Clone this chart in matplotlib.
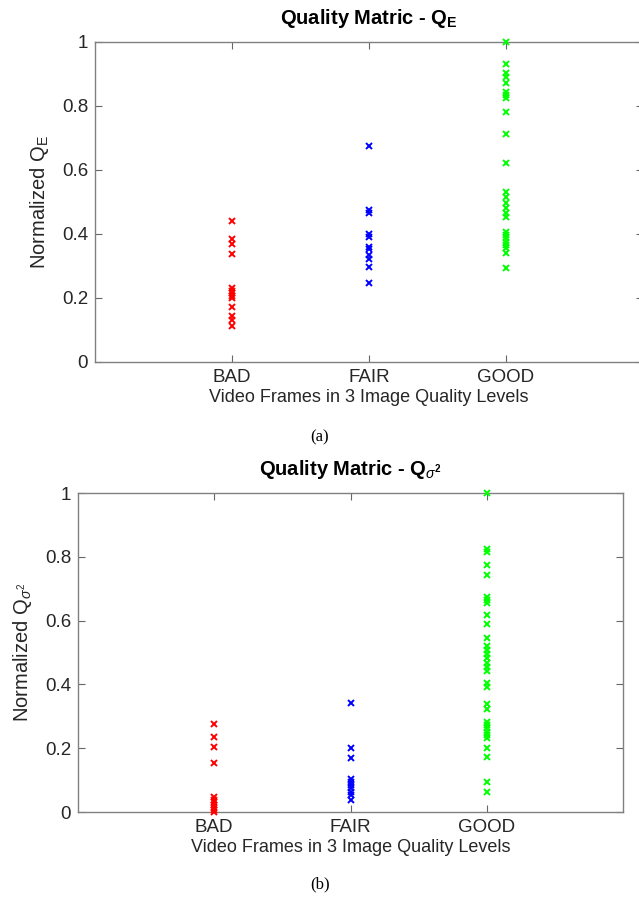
import numpy as np
import matplotlib
matplotlib.use("Agg")
import matplotlib.pyplot as plt

plt.rcParams['font.family'] = ['Liberation Sans', 'DejaVu Sans']
plt.rcParams['mathtext.fontset'] = 'custom'
plt.rcParams['mathtext.rm'] = 'Liberation Sans'
plt.rcParams['mathtext.it'] = 'Liberation Sans:italic'
plt.rcParams['mathtext.bf'] = 'Liberation Sans:bold'

# Niveis de qualidade
niveis = ['BAD', 'FAIR', 'GOOD']

# Q_E normalizado
qe_bad = [0.44, 0.385, 0.368, 0.337, 0.232, 0.222, 0.215, 0.205, 0.199, 0.171, 0.144, 0.13, 0.113]
qe_fair = [0.676, 0.475, 0.465, 0.40, 0.392, 0.36, 0.352, 0.334, 0.321, 0.296, 0.246]
qe_good = [1.0, 0.93, 0.902, 0.89, 0.873, 0.845, 0.834, 0.824, 0.782, 0.712, 0.621,
           0.532, 0.517, 0.496, 0.48, 0.467, 0.452, 0.407, 0.397, 0.386, 0.376,
           0.366, 0.355, 0.342, 0.295]

# Q_sigma^2 normalizado
qs_bad = [0.275, 0.236, 0.203, 0.155, 0.046, 0.038, 0.03, 0.022, 0.014, 0.006, 0.0]
qs_fair = [0.343, 0.20, 0.168, 0.105, 0.095, 0.085, 0.074, 0.064, 0.053, 0.038]
qs_good = [1.0, 0.823, 0.816, 0.774, 0.743, 0.675, 0.665, 0.656, 0.617, 0.589,
           0.544, 0.521, 0.508, 0.495, 0.482, 0.468, 0.455, 0.443, 0.405, 0.393,
           0.339, 0.322, 0.283, 0.273, 0.262, 0.252, 0.241, 0.231, 0.20, 0.173,
           0.095, 0.064]

cores = ['#ff0000', '#0000ff', '#00ff00']

fig = plt.figure(figsize=(6.39, 8.97), dpi=100)
ax1 = fig.add_axes([95/639, 1-362/897, 548/639, 320/897])
ax2 = fig.add_axes([78/639, 1-812/897, 545/639, 319/897])


def desenha(ax, dados, titulo, rotulo_y):
    for i, (vals, cor) in enumerate(zip(dados, cores)):
        ax.plot(np.full(len(vals), i + 1), vals, 'x', color=cor,
                markersize=5, markeredgewidth=1.4, clip_on=False, zorder=5)
    ax.set_xlim(0, 4)
    ax.set_ylim(0, 1)
    ax.set_xticks([1, 2, 3])
    ax.set_xticklabels(niveis)
    ax.set_yticks([0, 0.2, 0.4, 0.6, 0.8, 1])
    ax.set_yticklabels(['0', '0.2', '0.4', '0.6', '0.8', '1'])
    ax.tick_params(direction='in', length=5, width=0.8, color='0.4',
                   labelsize=13.5, labelcolor='#262626', top=True, right=True, pad=5)
    for s in ax.spines.values():
        s.set_color('0.5')
        s.set_linewidth(1.0)
    ax.set_title(titulo, fontsize=14.5, fontweight='bold', pad=13)
    ax.set_xlabel('Video Frames in 3 Image Quality Levels', fontsize=13,
                  color='#262626', labelpad=2)
    ax.set_ylabel(rotulo_y, fontsize=14.5, color='#262626', labelpad=8)


desenha(ax1, [qe_bad, qe_fair, qe_good], r'Quality Matric - $\mathbf{Q_E}$',
        r'Normalized $\mathrm{Q_E}$')
desenha(ax2, [qs_bad, qs_fair, qs_good],
        r'Quality Matric - $\mathbf{Q}_{\sigma^{\mathbf{2}}}$',
        r'Normalized $\mathrm{Q}_{\sigma^{\mathrm{2}}}$')

fig.text(320/639, 1-437/897, '(a)', ha='center', va='center',
         fontsize=12, family='Liberation Serif')
fig.text(320/639, 1-884/897, '(b)', ha='center', va='center',
         fontsize=12, family='Liberation Serif')

fig.savefig('out.png', dpi=100)
